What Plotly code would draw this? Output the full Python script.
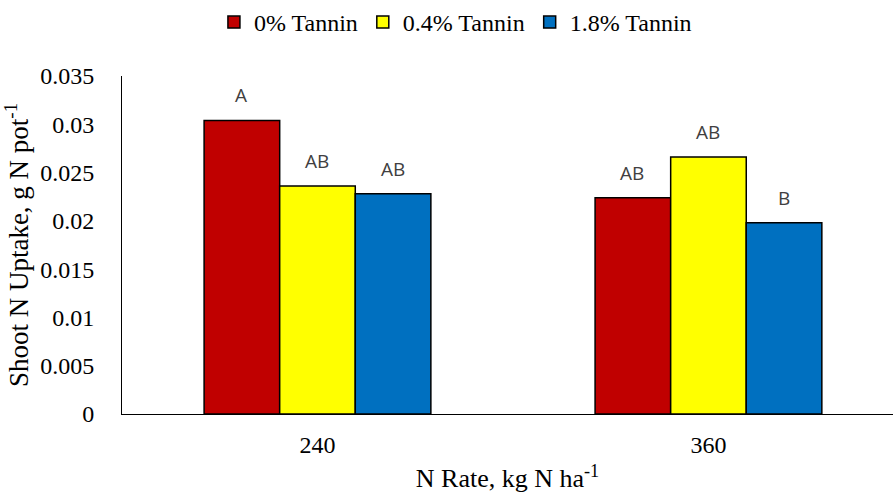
import plotly.graph_objects as go

categories = ["240", "360"]
series_names = ["0% Tannin", "0.4% Tannin", "1.8% Tannin"]
series_values = [
    [0.0304, 0.0224],
    [0.0236, 0.0266],
    [0.0228, 0.0198],
]
series_letters = [
    ["A", "AB"],
    ["AB", "AB"],
    ["AB", "B"],
]
colors = ["#C00000", "#FFFF00", "#0070C0"]
y_ticks = [0, 0.005, 0.01, 0.015, 0.02, 0.025, 0.03, 0.035]

fig = go.Figure()
for name, vals, col in zip(series_names, series_values, colors):
    fig.add_trace(go.Bar(
        x=categories, y=vals, name=name,
        marker=dict(color=col, line=dict(color="black", width=1.5)),
    ))

bar_px = 76
for i, letters in enumerate(series_letters):
    for ci, (val, lab) in enumerate(zip(series_values[i], letters)):
        fig.add_annotation(
            x=ci, y=val, text=lab, showarrow=False,
            xref="x", yref="y", yanchor="middle", yshift=25,
            xshift=(i - 1) * bar_px,
            font=dict(family="Open Sans", size=19, color="#404040"),
        )

fig.update_layout(
    width=893, height=496,
    margin=dict(l=122, r=0, t=76, b=82),
    plot_bgcolor="white", paper_bgcolor="white",
    barmode="group", bargap=0.42, bargroupgap=0,
    font=dict(family="Liberation Serif", size=24, color="black"),
    legend=dict(orientation="h", x=0.51, xanchor="center", y=1.0, yanchor="top",
                yref="container", xref="container", font=dict(size=24), itemwidth=30,
                traceorder="normal"),
    showlegend=True,
)
fig.update_xaxes(
    type="category", range=[-0.5, 1.472], showline=True, linecolor="black", linewidth=1,
    ticks="", ticklabelstandoff=9, showgrid=False,
    title=dict(text="N Rate, kg N ha<sup>-1</sup>", standoff=12, font=dict(size=26)),
)
fig.update_yaxes(
    range=[0, 0.035], tickvals=y_ticks, ticktext=[f"{v:g}" for v in y_ticks],
    showline=True, linecolor="black", linewidth=1, showgrid=False, zeroline=False,
    ticks="", ticklabelstandoff=22,
    title=dict(text="Shoot N Uptake, g N pot<sup>-1</sup>", standoff=6, font=dict(size=27)),
)

fig.write_html("out.html")
